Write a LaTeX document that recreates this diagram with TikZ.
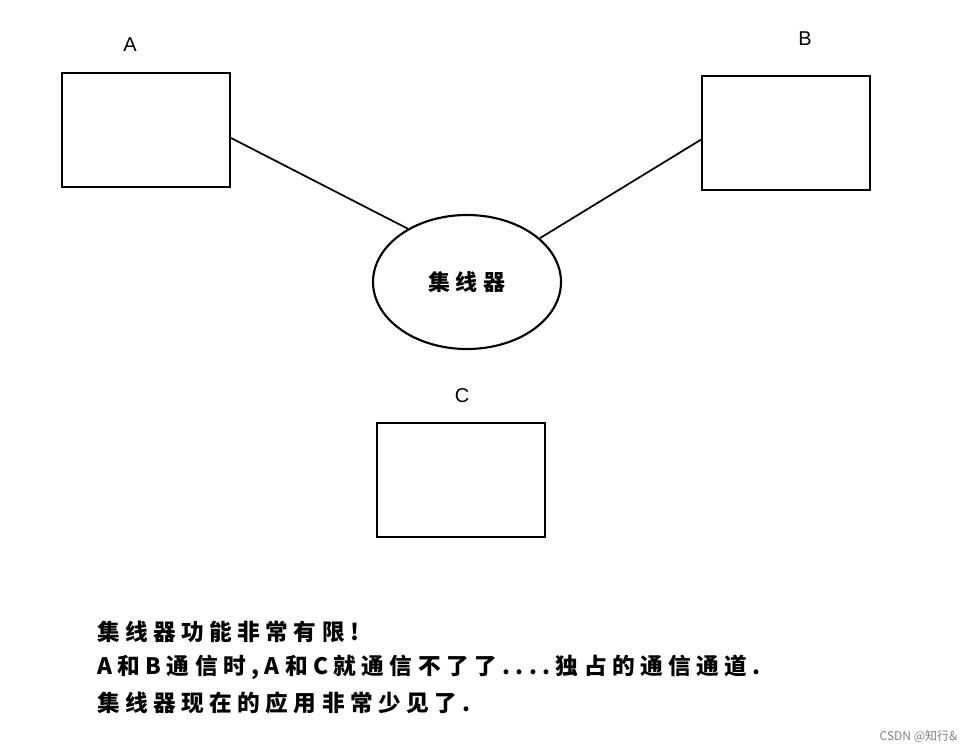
\documentclass[tikz,border=0pt]{standalone}
\usepackage{fontspec}
\setmainfont{Liberation Sans}
\newfontfamily\cjk{Noto Sans CJK SC}
\newfontfamily\cjksp[LetterSpace=24]{Noto Sans CJK SC}
\usetikzlibrary{shapes.geometric}
\begin{document}
\begin{tikzpicture}[x=0.75pt,y=-0.75pt,
  box/.style={draw,line width=1.6pt,minimum width=126pt,minimum height=85.5pt,inner sep=0pt},
  lbl/.style={font=\fontsize{15}{18}\selectfont},
  note/.style={anchor=west,font=\cjksp\bfseries\fontsize{17}{20}\selectfont,inner sep=0pt}]
\useasboundingbox (0,0) rectangle (980,752);
\node[box] (A) at (146,130) {};
\node[box] (B) at (786,133) {};
\node[box] (C) at (461,480) {};
\node[draw,ellipse,line width=1.6pt,minimum width=141pt,minimum height=100.5pt,font=\cjksp\bfseries\fontsize{16.5}{20}\selectfont] (H) at (467,282) {集线器};
\node[lbl] (la) at (130,45) {A};
\node[lbl] (lb) at (805,39) {B};
\node[lbl] (lc) at (462,396) {C};
\draw[line width=1.3pt] ([yshift=-6pt]A.east) -- (H.138.6);
\draw[line width=1.3pt] ([yshift=-5pt]B.west) -- (H.31);
\node[note] (n1) at (97,632) {集线器功能非常有限!};
\node[note] (n2) at (97,667) {A和B通信时,A和C就通信不了了....独占的通信通道.};
\node[note] (n3) at (97,703) {集线器现在的应用非常少见了.};
\node[anchor=east,text=gray,font=\cjk\fontsize{9}{11}\selectfont] (w) at (962,736) {CSDN @知行\&};
\end{tikzpicture}
\end{document}
